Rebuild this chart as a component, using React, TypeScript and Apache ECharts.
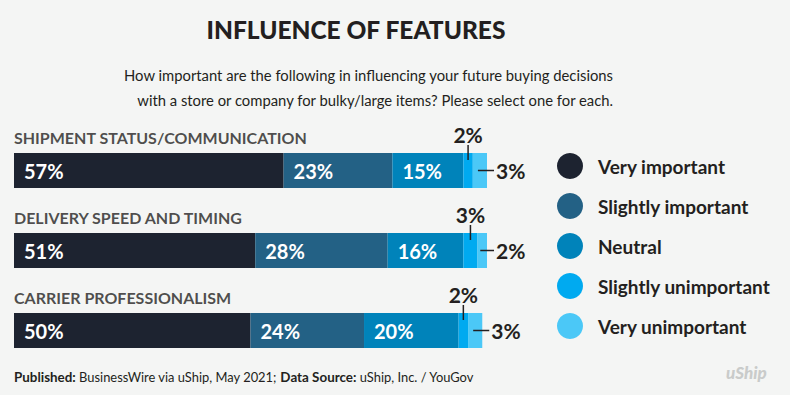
import React, { useEffect, useRef } from "react";
import * as echarts from "echarts";

const categories = ["SHIPMENT STATUS/COMMUNICATION", "DELIVERY SPEED AND TIMING", "CARRIER PROFESSIONALISM"];
const seriesNames = ["Very important", "Slightly important", "Neutral", "Slightly unimportant", "Very unimportant"];
const veryImportant = [57, 51, 50];
const slightlyImportant = [23, 28, 24];
const neutral = [15, 16, 20];
const slightlyUnimportant = [2, 3, 2];
const veryUnimportant = [3, 2, 3];
const seriesValues = [veryImportant, slightlyImportant, neutral, slightlyUnimportant, veryUnimportant];
const colors = ["#1d2330", "#236185", "#0083ba", "#00aaf0", "#4bc8f7"];

const FONT = "Lato";
const DARK = "#231f20";

export default function App() {
  const ref = useRef<HTMLDivElement>(null);
  useEffect(() => {
    document.body.style.margin = "0";
    const chart = echarts.init(ref.current!, null, { renderer: "svg" });
    const series: any[] = seriesValues.map((vals, i) => {
      let label: any;
      if (i < 3) {
        label = { show: true, position: "insideLeft", distance: 10, color: "#fff", fontFamily: FONT, fontWeight: "bold", fontSize: 20, formatter: "{c}%" };
      } else if (i === 3) {
        label = { show: true, position: "top", distance: 8, color: DARK, fontFamily: FONT, fontWeight: "bold", fontSize: 21, formatter: "{c}%" };
      } else {
        label = { show: true, position: "right", distance: 9, color: DARK, fontFamily: FONT, fontWeight: "bold", fontSize: 21, formatter: "{c}%" };
      }
      return {
        name: seriesNames[i],
        type: "bar",
        stack: "total",
        barWidth: 35,
        data: vals,
        itemStyle: { color: colors[i] },
        label,
        emphasis: { disabled: true },
      };
    });
    series.push({
      name: "categoryLabels",
      type: "scatter",
      symbolSize: 0,
      silent: true,
      data: categories.map((c, i) => [0, i]),
      label: {
        show: true,
        position: "right",
        distance: 0,
        offset: [0, -33],
        formatter: (p: any) => categories[p.dataIndex],
        fontFamily: FONT,
        fontWeight: "bold",
        fontSize: 16,
        color: DARK,
      },
      z: 10,
    });
    chart.setOption({
      animation: false,
      backgroundColor: "#f4f5f4",
      title: [
        {
          text: "INFLUENCE OF FEATURES",
          left: 356,
          top: 17,
          padding: 0,
          textAlign: "center",
          textStyle: { fontFamily: FONT, fontWeight: 900, fontSize: 24.5, color: DARK },
        },
        {
          text: "How important are the following in influencing your future buying decisions\nwith a store or company for bulky/large items? Please select one for each.",
          left: 613,
          top: 62,
          padding: 0,
          textAlign: "right",
          textStyle: { fontFamily: FONT, fontWeight: "normal", fontSize: 14.8, lineHeight: 25, color: DARK, align: "right" },
        },
        {
          text: "{b|Published:} BusinessWire via uShip, May 2021; {b|Data Source:} uShip, Inc. / YouGov",
          left: 14,
          top: 370,
          padding: 0,
          textStyle: {
            fontFamily: FONT, fontSize: 12.9, color: DARK, fontWeight: "normal",
            rich: { b: { fontFamily: FONT, fontSize: 13.4, fontWeight: "bold", color: DARK } },
          },
        },
        {
          text: "uShip",
          left: 726,
          top: 364,
          padding: 0,
          textStyle: { fontFamily: FONT, fontSize: 17, fontWeight: 900, fontStyle: "italic", color: "#c9cbca" },
        },
      ],
      legend: {
        orient: "vertical",
        left: 557,
        top: 153,
        padding: 0,
        itemWidth: 26,
        itemHeight: 26,
        itemGap: 14,
        icon: "circle",
        selectedMode: false,
        textStyle: { fontFamily: FONT, fontWeight: "bold", fontSize: 19, color: DARK, padding: [0, 0, 0, 10] },
        data: seriesNames,
      },
      grid: { left: 14, width: 473, top: 130.5, height: 240, containLabel: false },
      xAxis: { type: "value", min: 0, max: 100, show: false },
      yAxis: {
        type: "category",
        inverse: true,
        data: categories,
        show: false,
      },
      series,
    });
    // guide lines for the small outside labels, positioned via the chart's own scales
    const graphics: any[] = [];
    categories.forEach((_, r) => {
      const cum3 = veryImportant[r] + slightlyImportant[r] + neutral[r];
      const cum4 = cum3 + slightlyUnimportant[r];
      const total = cum4 + veryUnimportant[r];
      const pTop = chart.convertToPixel({ gridIndex: 0 }, [cum3 + slightlyUnimportant[r] / 2, r]) as number[];
      const pRightStart = chart.convertToPixel({ gridIndex: 0 }, [cum4 + veryUnimportant[r] / 2, r]) as number[];
      const pEnd = chart.convertToPixel({ gridIndex: 0 }, [total, r]) as number[];
      const top = pTop[1] - 17.5;
      graphics.push({
        type: "line",
        shape: { x1: pTop[0], y1: top - 8, x2: pTop[0], y2: top + 7 },
        style: { stroke: DARK, lineWidth: 1.5 },
        z: 100,
      });
      graphics.push({
        type: "line",
        shape: { x1: pRightStart[0] - 2, y1: pEnd[1], x2: pEnd[0] + 7, y2: pEnd[1] },
        style: { stroke: DARK, lineWidth: 1.5 },
        z: 100,
      });
    });
    chart.setOption({ graphic: graphics });
    return () => chart.dispose();
  }, []);
  return <div ref={ref} style={{ width: 790, height: 395 }} />;
}
